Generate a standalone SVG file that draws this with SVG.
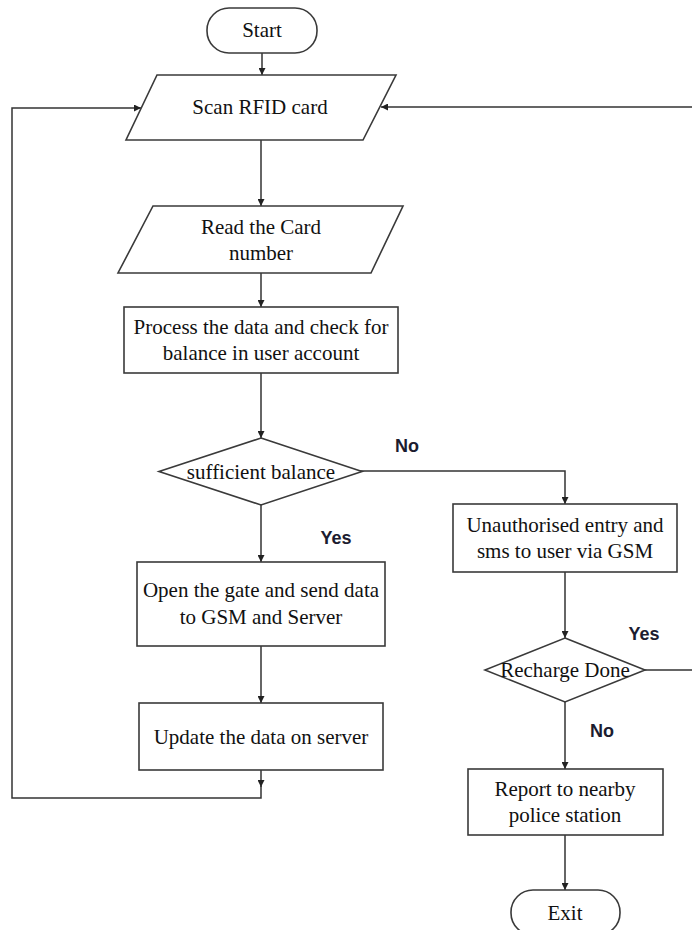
<svg xmlns="http://www.w3.org/2000/svg" width="692" height="930" viewBox="0 0 692 930">
<defs>
<marker id="arr" viewBox="0 0 10 10" refX="10" refY="5" markerWidth="7" markerHeight="7" markerUnits="userSpaceOnUse" orient="auto">
<path d="M0,0 L10,5 L0,10 Z" fill="#222"/>
</marker>
<style>
.n{fill:#fff;stroke:#3a3a3a;stroke-width:1.6}
.t{font-family:"Liberation Serif","Times New Roman",serif;font-size:21px;fill:#111;text-anchor:middle}
.c{fill:none;stroke:#333;stroke-width:1.5}
.l{font-family:"Liberation Sans",Arial,sans-serif;font-size:18px;font-weight:bold;fill:#1c1c30;text-anchor:middle}
</style>
</defs>
<rect width="692" height="930" fill="#fff"/>
<g id="connectors">
<path class="c" d="M262,53 V75" marker-end="url(#arr)"/>
<path class="c" d="M261,140 V206" marker-end="url(#arr)"/>
<path class="c" d="M261,273 V307" marker-end="url(#arr)"/>
<path class="c" d="M261,373 V438" marker-end="url(#arr)"/>
<path class="c" d="M261,505 V562" marker-end="url(#arr)"/>
<path class="c" d="M261,646 V703" marker-end="url(#arr)"/>
<path class="c" d="M261,770 V787" marker-end="url(#arr)"/>
<path class="c" d="M261,786 V798 H12 V108 H141" marker-end="url(#arr)"/>
<path class="c" d="M360,471 H565 V504" marker-end="url(#arr)"/>
<path class="c" d="M565,572 V638" marker-end="url(#arr)"/>
<path class="c" d="M565,702 V769" marker-end="url(#arr)"/>
<path class="c" d="M565,835 V890" marker-end="url(#arr)"/>
<path class="c" d="M645,670 H700 V107 H381" marker-end="url(#arr)"/>
<text class="l" x="407" y="452">No</text>
<text class="l" x="336" y="544">Yes</text>
<text class="l" x="644" y="640">Yes</text>
<text class="l" x="602" y="737">No</text>
</g>
<g id="start">
<rect class="n" x="207" y="8" width="110" height="45" rx="22" ry="22"/>
<text class="t" x="262" y="37">Start</text>
</g>
<g id="scan">
<polygon class="n" points="157,75 396,75 363,140 126,140"/>
<text class="t" x="260" y="114">Scan RFID card</text>
</g>
<g id="read">
<polygon class="n" points="153,206 403,206 371,273 118,273"/>
<text class="t" x="261" y="234">Read the Card</text>
<text class="t" x="261" y="260">number</text>
</g>
<g id="process">
<rect class="n" x="124" y="307" width="274" height="66"/>
<text class="t" x="261" y="334">Process the data and check for</text>
<text class="t" x="261" y="360">balance in user account</text>
</g>
<g id="balance">
<polygon class="n" points="261,438 362,471.5 261,505 159,471.5"/>
<text class="t" x="261" y="479">sufficient balance</text>
</g>
<g id="open">
<rect class="n" x="137" y="562" width="248" height="84"/>
<text class="t" x="261" y="597">Open the gate and send data</text>
<text class="t" x="261" y="624">to GSM and Server</text>
</g>
<g id="update">
<rect class="n" x="139" y="703" width="244" height="67"/>
<text class="t" x="261" y="744">Update the data on server</text>
</g>
<g id="unauth">
<rect class="n" x="453" y="504" width="224" height="68"/>
<text class="t" x="565" y="532">Unauthorised entry and</text>
<text class="t" x="565" y="558">sms to user via GSM</text>
</g>
<g id="recharge">
<polygon class="n" points="565,638 645,670 565,702 485,670"/>
<text class="t" x="565" y="677">Recharge Done</text>
</g>
<g id="report">
<rect class="n" x="468" y="769" width="195" height="66"/>
<text class="t" x="565" y="796">Report to nearby</text>
<text class="t" x="565" y="822">police station</text>
</g>
<g id="exit">
<rect class="n" x="511" y="890" width="109" height="45" rx="22" ry="22"/>
<text class="t" x="565" y="920">Exit</text>
</g>
</svg>
